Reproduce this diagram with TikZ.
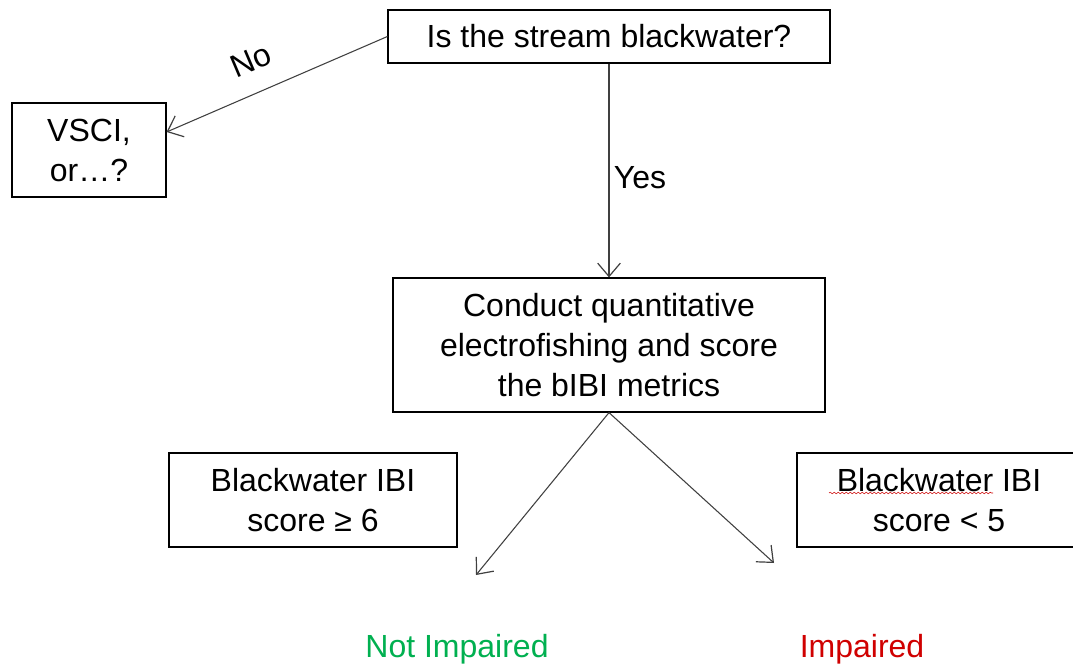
\documentclass[tikz,border=0pt]{standalone}
\usepackage{fontspec}
\setmainfont{Liberation Sans}
\usetikzlibrary{arrows.meta,calc,decorations.pathmorphing}
\definecolor{okgreen}{HTML}{00B050}
\definecolor{badred}{HTML}{D00000}
\definecolor{arrowgray}{HTML}{404040}
\tikzset{
  box/.style={draw=black, line width=0.9pt, inner sep=0pt, align=center,
    font=\fontsize{24}{30}\selectfont},
  lbl/.style={inner sep=0pt, font=\fontsize{24}{30}\selectfont},
  conn/.style={draw=arrowgray, line width=0.8pt,
    -{Straight Barb[length=10pt,width=17pt,line width=0.9pt]}}
}
\begin{document}
\begin{tikzpicture}[x=0.75pt,y=-0.75pt]
\useasboundingbox (0,0) rectangle (1073,667);
\clip (0,0) rectangle (1073,667);
\fill[white] (0,0) rectangle (1073,667);

\node[box, minimum width=331.5pt, minimum height=39.75pt] (top) at (609,36.5) {Is the stream blackwater?};
\node[box, minimum width=115.5pt, minimum height=70.5pt] (vsci) at (89,150) {VSCI,\\or\ldots?};
\node[box, minimum width=324pt, minimum height=100.5pt] (mid) at (609,345) {Conduct quantitative\\electrofishing and score\\the bIBI metrics};
\node[box, minimum width=216pt, minimum height=70.5pt] (lbox) at (313,500) {Blackwater IBI\\score ≥ 6};
\node[box, minimum width=213pt, minimum height=70.5pt] (rbox) at (939,500) {Blackwater IBI\\score < 5};

\coordinate (lend) at (476,575);
\coordinate (rend) at (774,563);

\draw[conn] (top.west) -- ($(vsci.east)+(0,-18)$);
\draw[conn] (top.south) -- (mid.north);
\draw[conn] (mid.south) -- (lend);
\draw[conn] (mid.south) -- (rend);

\node[lbl, rotate=23] (no) at (251,61) {No};
\node[lbl] (yes) at (640,178) {Yes};
\node[lbl, text=okgreen] (notimp) at (457,649) {Not Impaired};
\node[lbl, text=badred] (imp) at (862,649) {Impaired};

\draw[red!80!black, line width=0.4pt, decorate,
  decoration={snake, amplitude=0.6pt, segment length=3pt}]
  (829,493) -- (993,493);
\end{tikzpicture}
\end{document}
